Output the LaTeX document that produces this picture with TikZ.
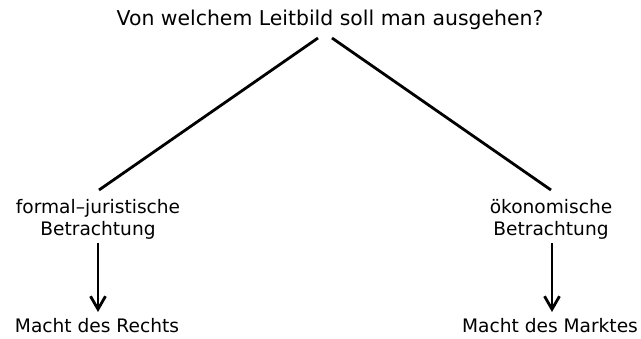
\documentclass[tikz,border=0pt]{standalone}
\usepackage{fontspec}
\setmainfont{DejaVu Sans}
\usetikzlibrary{arrows.meta}
\begin{document}
\begin{tikzpicture}[x=1pt,y=-1pt,
  title text/.style={font=\fontsize{20.4}{22}\selectfont, inner sep=0pt},
  label text/.style={font=\fontsize{18.6}{22}\selectfont, align=center, inner sep=0pt},
  branch/.style={line width=2.8pt},
  down arrow/.style={line width=2.8pt, -{Straight Barb[length=13pt,width=15pt,line width=2.8pt]}}]
  \useasboundingbox (0,0) rectangle (641,338);
  \node[title text] (title) at (330,20) {Von welchem Leitbild soll man ausgehen?};
  \node[label text] (left) at (98,219) {formal--juristische\\Betrachtung};
  \node[label text] (right) at (551,219) {ökonomische\\Betrachtung};
  \node[label text] (leftend) at (97,326) {Macht des Rechts};
  \node[label text] (rightend) at (550,326) {Macht des Marktes};
  \coordinate (lt) at (318,38);
  \coordinate (rt) at (332,38);
  \coordinate (lb) at (99,190);
  \coordinate (rb) at (551,190);
  \draw[branch] (lt) -- (lb);
  \draw[branch] (rt) -- (rb);
  \draw[down arrow] (98,243) -- (98,312);
  \draw[down arrow] (552,243) -- (552,312);
\end{tikzpicture}
\end{document}
